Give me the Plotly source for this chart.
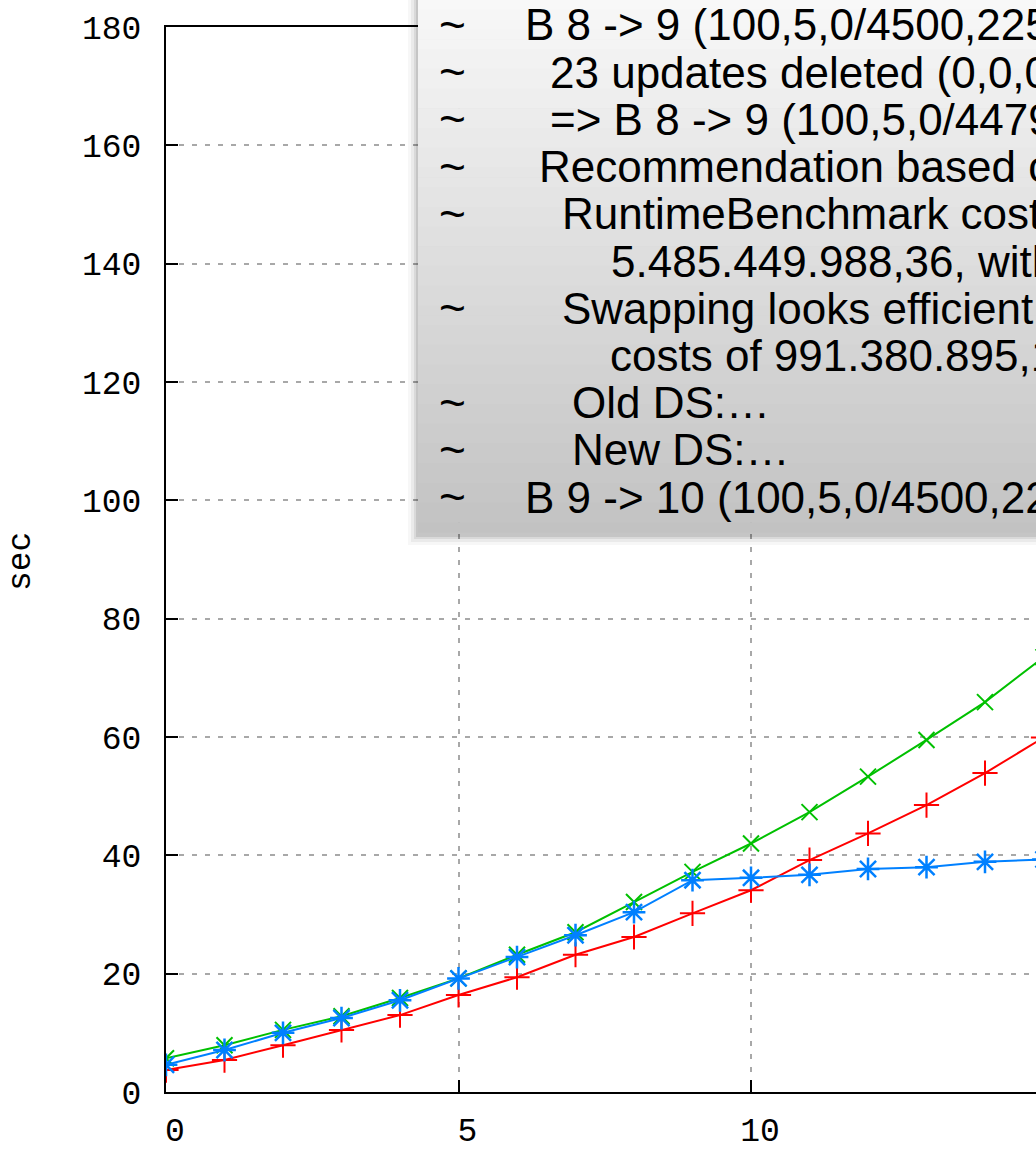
import plotly.graph_objects as go

# ---- data ----
x_vals = list(range(0, 16))
red_vals = [3.7, 5.4, 7.9, 10.5, 13.0, 16.4, 19.4, 23.2, 26.2, 30.2, 34.1, 39.2, 43.7, 48.5, 53.9, 59.9]
green_vals = [5.7, 7.9, 10.5, 12.8, 15.9, 19.2, 23.2, 27.0, 32.1, 37.2, 42.0, 47.3, 53.3, 59.5, 65.9, 73.5]
blue_vals = [4.6, 7.1, 10.0, 12.5, 15.5, 19.2, 22.8, 26.5, 30.4, 35.8, 36.2, 36.7, 37.7, 38.0, 38.9, 39.3]

y_ticks = [0, 20, 40, 60, 80, 100, 120, 140, 160, 180]
x_ticks = [0, 5, 10, 15]

overlay_lines = [
    ("B 8 -> 9 (100,5,0/4500,225,0/0,0,0)", 523),
    ("23 updates deleted (0,0,0/21,0,0/0,0,0)", 548),
    ("=> B 8 -> 9 (100,5,0/4479,225,0/0,0,0)", 548),
    ("Recommendation based on 23 updates", 537),
    ("RuntimeBenchmark costs of the current DS", 560),
    ("5.485.449.988,36, with the new DS", 609),
    ("Swapping looks efficient, the new DS has", 560),
    ("costs of 991.380.895,12", 608),
    ("Old DS:\u2026", 570),
    ("New DS:\u2026", 570),
    ("B 9 -> 10 (100,5,0/4500,225,0/0,0,0)", 523),
]
overlay_show_tilde = [True, True, True, True, True, False, True, False, True, True, True]

W, H = 1036, 1149
L, R, T, B = 166, 0, 27, 57
PW, PH = W - L - R, H - T - B


def px2x(px):
    return (px - L) / PW


def py2y(py):
    return (H - B - py) / PH


fig = go.Figure()

fig.add_trace(go.Scatter(
    x=x_vals, y=red_vals, mode="lines+markers", name="red",
    line=dict(color="#ff0000", width=2),
    marker=dict(symbol="cross-thin-open", size=18, color="#ff0000",
                line=dict(color="#ff0000", width=2)),
))
fig.add_trace(go.Scatter(
    x=x_vals, y=green_vals, mode="lines+markers", name="green",
    line=dict(color="#00c000", width=2),
    marker=dict(symbol="x-thin-open", size=16, color="#00c000",
                line=dict(color="#00c000", width=2)),
))
fig.add_trace(go.Scatter(
    x=x_vals, y=blue_vals, mode="lines+markers", name="blue",
    line=dict(color="#0080ff", width=2),
    marker=dict(symbol="asterisk-open", size=19, color="#0080ff",
                line=dict(color="#0080ff", width=2.5)),
))

tick_font = dict(family="Liberation Mono, DejaVu Sans Mono, monospace", size=33, color="#000000")

fig.update_layout(
    width=W, height=H,
    margin=dict(l=L, r=R, t=T, b=B, pad=0),
    paper_bgcolor="white", plot_bgcolor="white",
    showlegend=False,
    template="none",
    xaxis=dict(
        range=[0, PW / 58.5], tickvals=x_ticks, ticktext=[str(v) for v in x_ticks],
        showline=True, linecolor="black", linewidth=2, mirror=True,
        ticks="inside", ticklen=12, tickwidth=2, tickcolor="black",
        showgrid=True, gridcolor="#a8a8a8", gridwidth=2, griddash="5px,8px",
        zeroline=False, tickfont=tick_font, automargin=False,
        ticklabelstandoff=7, ticklabelshift=9,
    ),
    yaxis=dict(
        range=[0, 180], tickvals=y_ticks, ticktext=[str(v) for v in y_ticks],
        showline=True, linecolor="black", linewidth=2, mirror=False,
        ticks="inside", ticklen=12, tickwidth=2, tickcolor="black",
        showgrid=True, gridcolor="#a8a8a8", gridwidth=2, griddash="5px,8px",
        zeroline=False, tickfont=tick_font, automargin=False,
        ticklabelstandoff=16,
    ),
)

# y axis title
fig.add_annotation(
    text="sec", xref="paper", yref="paper", x=px2x(22), y=py2y(562),
    textangle=-90, showarrow=False, xanchor="center", yanchor="middle",
    font=tick_font,
)

# ---- overlay tooltip box (gradient + shadow) ----
box_left, box_top, box_bottom, box_right = 418, -20, 532, 1100
shapes = []
for grow, op in [(10, 0.03), (7, 0.05), (4, 0.07), (2, 0.09)]:
    shapes.append(dict(
        type="rect", xref="paper", yref="paper", layer="above",
        x0=px2x(box_left - grow), x1=px2x(box_right),
        y0=py2y(box_bottom + 3 + grow), y1=py2y(box_top),
        fillcolor=f"rgba(0,0,0,{op})", line=dict(width=0),
    ))
n_strips = 56
top_c, bot_c = 250, 194
for i in range(n_strips):
    y0p = box_top + (box_bottom - box_top) * i / n_strips
    y1p = box_top + (box_bottom - box_top) * (i + 1) / n_strips
    t = (i + 0.5) / n_strips
    c = round(top_c + (bot_c - top_c) * t)
    shapes.append(dict(
        type="rect", xref="paper", yref="paper", layer="above",
        x0=px2x(box_left), x1=px2x(box_right),
        y0=py2y(y1p + 0.6), y1=py2y(y0p),
        fillcolor=f"rgb({c},{c},{c})", line=dict(width=0),
    ))
fig.update_layout(shapes=shapes)

box_font = dict(family="Liberation Sans, Arial, sans-serif", size=44, color="#000000")
tilde_font = dict(family="Liberation Sans, Arial, sans-serif", size=46, color="#000000")
line_y0, line_step = 25, 47.2
for i, ((txt, xpx), tilde) in enumerate(zip(overlay_lines, overlay_show_tilde)):
    ycen = line_y0 + i * line_step
    if tilde:
        fig.add_annotation(text="~", xref="paper", yref="paper",
                           x=px2x(437), y=py2y(ycen), xanchor="left", yanchor="middle",
                           showarrow=False, font=tilde_font)
    fig.add_annotation(text=txt, xref="paper", yref="paper",
                       x=px2x(xpx), y=py2y(ycen), xanchor="left", yanchor="middle",
                       showarrow=False, font=box_font, align="left")

fig.write_html("out.html")
